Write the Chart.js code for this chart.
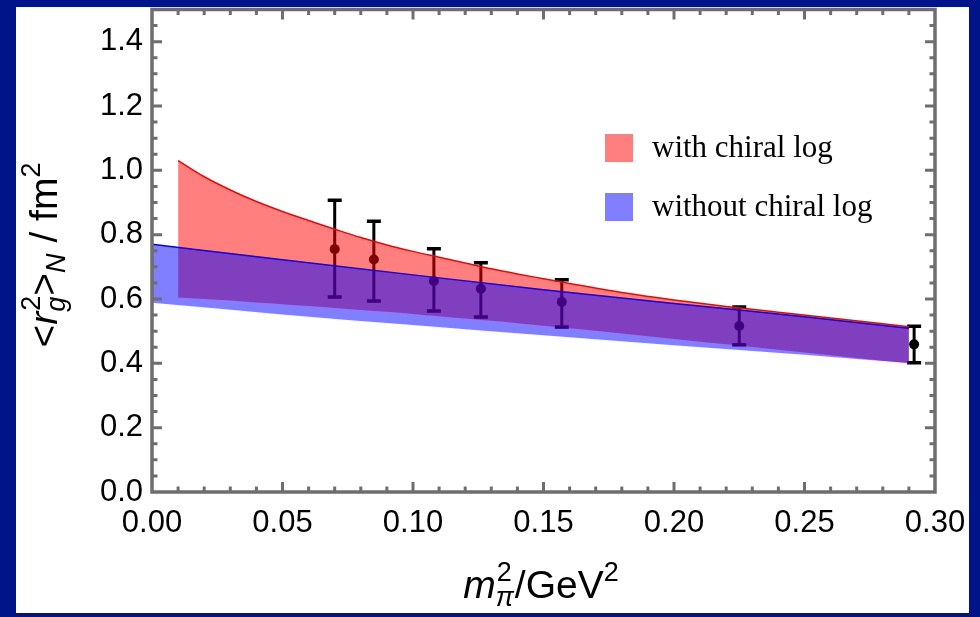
<!DOCTYPE html>
<html><head><meta charset="utf-8">
<script src="https://cdn.jsdelivr.net/npm/chart.js@4.4.1/dist/chart.umd.min.js"></script>
<style>html,body{margin:0;padding:0;background:#001489;overflow:hidden}</style>
</head><body>
<canvas id="c" width="980" height="617"></canvas>
<script>
// ---- tick labels ----
const xTicks = [0, 0.05, 0.10, 0.15, 0.20, 0.25, 0.30];
const yTicks = [0, 0.2, 0.4, 0.6, 0.8, 1.0, 1.2, 1.4];

// ---- lattice data points with error bars ----
const latticeX  = [0.070, 0.085, 0.108, 0.126, 0.157, 0.225, 0.292];
const latticeY  = [0.755, 0.723, 0.656, 0.632, 0.591, 0.516, 0.459];
const latticeLo = [0.606, 0.594, 0.563, 0.544, 0.513, 0.458, 0.402];
const latticeHi = [0.907, 0.842, 0.756, 0.713, 0.660, 0.575, 0.515];

// ---- band "with chiral log" ----
const chiralX     = [0.01,0.02,0.03,0.04,0.05,0.06,0.07,0.08,0.09,0.10,0.11,0.12,0.13,0.14,0.15,0.16,0.18,0.20,0.22,0.24,0.26,0.28,0.29];
const chiralUpper = [1.030,0.980,0.939,0.903,0.872,0.844,0.817,0.791,0.768,0.748,0.730,0.712,0.694,0.678,0.663,0.648,0.620,0.597,0.577,0.559,0.541,0.523,0.514];
const chiralLower = [0.605,0.600,0.595,0.589,0.584,0.578,0.572,0.566,0.560,0.553,0.546,0.539,0.532,0.525,0.517,0.509,0.493,0.476,0.459,0.442,0.425,0.408,0.400];

// ---- band "without chiral log" ----
const linearX     = [0, 0.05, 0.10, 0.15, 0.20, 0.25, 0.29];
const linearUpper = [0.770, 0.722, 0.675, 0.629, 0.586, 0.545, 0.509];
const linearLower = [0.588, 0.552, 0.519, 0.487, 0.456, 0.427, 0.401];

const legendLabels = ['with chiral log', 'without chiral log'];

const pts = (xs, ys) => xs.map((x, i) => ({x: x, y: ys[i]}));
const SANS = "'Liberation Sans', Arial, sans-serif";
const SERIF = "'Liberation Serif', 'Times New Roman', serif";
const GRAY = '#6e6e6e';

const bgPlugin = {
  id: 'bg',
  beforeDraw(chart) {
    const ctx = chart.ctx;
    ctx.save();
    ctx.fillStyle = '#001489';
    ctx.fillRect(0, 0, chart.width, chart.height);
    ctx.fillStyle = '#ffffff';
    ctx.fillRect(16, 7, 953, 606);
    ctx.restore();
  }
};

const errorBars = {
  id: 'errorBars',
  beforeDatasetsDraw(chart) {
    const ctx = chart.ctx, xs = chart.scales.x, ys = chart.scales.y;
    ctx.save();
    ctx.strokeStyle = '#000';
    for (let i = 0; i < latticeX.length; i++) {
      const px = xs.getPixelForValue(latticeX[i]);
      const lo = ys.getPixelForValue(latticeLo[i]);
      const hi = ys.getPixelForValue(latticeHi[i]);
      ctx.lineWidth = 3;
      ctx.beginPath(); ctx.moveTo(px, lo); ctx.lineTo(px, hi); ctx.stroke();
      ctx.lineWidth = 3.5;
      ctx.beginPath();
      ctx.moveTo(px - 7, lo); ctx.lineTo(px + 7, lo);
      ctx.moveTo(px - 7, hi); ctx.lineTo(px + 7, hi);
      ctx.stroke();
    }
    ctx.restore();
  }
};

const frame = {
  id: 'frame',
  afterDraw(chart) {
    const ctx = chart.ctx, a = chart.chartArea, xs = chart.scales.x, ys = chart.scales.y;
    ctx.save();
    ctx.strokeStyle = GRAY;
    ctx.lineWidth = 3;
    ctx.beginPath();
    for (let k = 1; k < 30; k++) {
      const px = xs.getPixelForValue(k / 100);
      const len = (k % 5 === 0) ? 10 : 5.5;
      ctx.moveTo(px, a.bottom); ctx.lineTo(px, a.bottom - len);
      ctx.moveTo(px, a.top); ctx.lineTo(px, a.top + len);
    }
    for (let k = 1; k < 30; k++) {
      const py = ys.getPixelForValue(k * 0.05);
      const len = (k % 4 === 0) ? 10 : 5.5;
      ctx.moveTo(a.left, py); ctx.lineTo(a.left + len, py);
      ctx.moveTo(a.right, py); ctx.lineTo(a.right - len, py);
    }
    ctx.stroke();
    ctx.lineWidth = 3.5;
    ctx.strokeRect(a.left, a.top, a.right - a.left, a.bottom - a.top);
    ctx.restore();
  }
};

function drawPieces(ctx, pieces, cx, baseline) {
  const widths = pieces.map(p => { ctx.font = (p.italic ? 'italic ' : '') + p.size + 'px ' + SANS; return ctx.measureText(p.t).width; });
  let total = 0;
  pieces.forEach((p, i) => { if (!p.stack) total += (p.adv !== undefined ? p.adv(widths) : widths[i]); });
  let x = cx - total / 2;
  pieces.forEach((p, i) => {
    ctx.font = (p.italic ? 'italic ' : '') + p.size + 'px ' + SANS;
    ctx.fillText(p.t, x + (p.dx || 0), baseline + (p.dy || 0));
    if (!p.stack) x += (p.adv !== undefined ? p.adv(widths) : widths[i]);
  });
}

const titles = {
  id: 'titles',
  afterDraw(chart) {
    const ctx = chart.ctx;
    ctx.save();
    ctx.fillStyle = '#000';
    ctx.textAlign = 'left';
    ctx.textBaseline = 'alphabetic';
    drawPieces(ctx, [
      {t: 'm', size: 39, italic: true},
      {t: '2', size: 27, dy: -17, dx: 1, stack: true},
      {t: 'π', size: 27, italic: true, dy: 8, adv: w => Math.max(w[1], w[2]) + 1},
      {t: '/GeV', size: 39},
      {t: '2', size: 27, dy: -17}
    ], 541, 598);
    ctx.translate(57, 255);
    ctx.rotate(-Math.PI / 2);
    drawPieces(ctx, [
      {t: '<', size: 39},
      {t: 'r', size: 39, italic: true},
      {t: '2', size: 27, dy: -17, dx: 1, stack: true},
      {t: 'g', size: 27, italic: true, dy: 8, adv: w => Math.max(w[2], w[3]) + 1},
      {t: '>', size: 39},
      {t: 'N', size: 27, italic: true, dy: 8},
      {t: ' / fm', size: 39},
      {t: '2', size: 27, dy: -17}
    ], 0, 0);
    ctx.restore();
  }
};

const legendBox = {
  id: 'legendBox',
  afterDraw(chart) {
    const ctx = chart.ctx;
    ctx.save();
    const colors = ['rgba(255,0,0,0.5)', 'rgba(0,0,255,0.5)'];
    const tops = [134, 193];
    ctx.font = '31px ' + SERIF;
    ctx.textBaseline = 'alphabetic';
    legendLabels.forEach((lab, i) => {
      ctx.fillStyle = colors[i];
      ctx.fillRect(605, tops[i], 28, 28);
      ctx.fillStyle = '#000';
      ctx.fillText(lab, 652, tops[i] + 23);
    });
    ctx.restore();
  }
};

new Chart(document.getElementById('c'), {
  type: 'scatter',
  data: {
    datasets: [
      {type: 'scatter', data: pts(latticeX, latticeY), backgroundColor: '#000', borderWidth: 0, pointRadius: 5, order: 10},
      {type: 'line', data: pts(chiralX, chiralLower), borderWidth: 0, pointRadius: 0, fill: false, order: 5, cubicInterpolationMode: 'monotone'},
      {type: 'line', data: pts(chiralX, chiralUpper), borderColor: 'rgb(255,0,0)', borderWidth: 1.5, pointRadius: 0,
        fill: '-1', backgroundColor: 'rgba(255,0,0,0.5)', order: 5, cubicInterpolationMode: 'monotone'},
      {type: 'line', data: pts(linearX, linearLower), borderWidth: 0, pointRadius: 0, fill: false, order: 1, cubicInterpolationMode: 'monotone'},
      {type: 'line', data: pts(linearX, linearUpper), borderColor: 'rgb(0,0,255)', borderWidth: 1.5, pointRadius: 0,
        fill: '-1', backgroundColor: 'rgba(0,0,255,0.5)', order: 1, cubicInterpolationMode: 'monotone'}
    ]
  },
  options: {
    responsive: false,
    animation: false,
    devicePixelRatio: 1,
    layout: {padding: {left: 0, right: 45, top: 9.5, bottom: 0}},
    plugins: {legend: {display: false}, tooltip: {enabled: false}},
    scales: {
      x: {
        type: 'linear', min: 0, max: 0.3,
        afterBuildTicks: s => { s.ticks = xTicks.map(v => ({value: v})); },
        afterFit: s => { s.height = 125; s.paddingLeft = 0; s.paddingRight = 0; },
        grid: {display: false, drawTicks: false}, border: {display: false},
        ticks: {font: {family: SANS, size: 31}, color: '#000', padding: 13, maxRotation: 0, autoSkip: false,
          callback: v => Number(v).toFixed(2)}
      },
      y: {
        type: 'linear', min: 0, max: 1.5,
        afterBuildTicks: s => { s.ticks = yTicks.map(v => ({value: v})); },
        afterFit: s => { s.width = 152; s.paddingTop = 0; s.paddingBottom = 0; },
        grid: {display: false, drawTicks: false}, border: {display: false},
        ticks: {font: {family: SANS, size: 31}, color: '#000', padding: 9, autoSkip: false,
          callback: v => Number(v).toFixed(1)}
      }
    }
  },
  plugins: [bgPlugin, errorBars, frame, titles, legendBox]
});
</script>
</body></html>
